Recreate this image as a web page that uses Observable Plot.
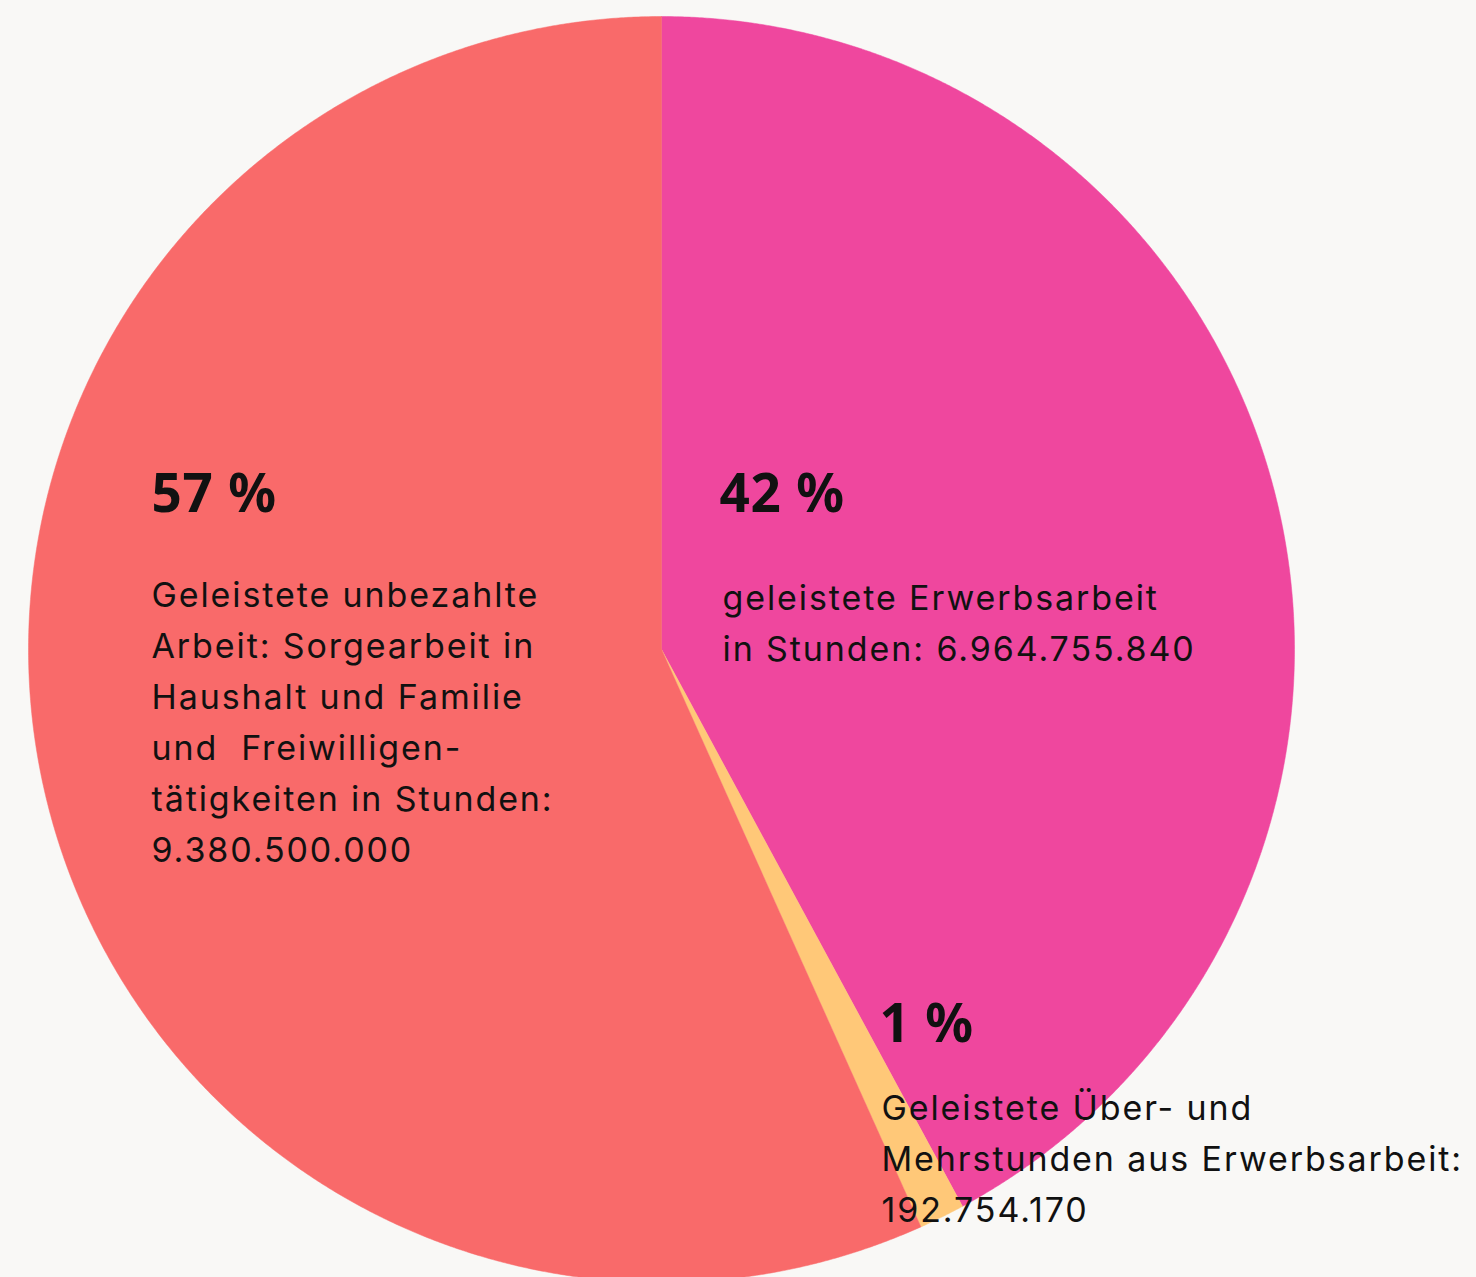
<!DOCTYPE html>
<html>
<head>
<meta charset="utf-8">
<script src="https://cdn.jsdelivr.net/npm/d3@7"></script>
<script src="https://cdn.jsdelivr.net/npm/@observablehq/plot@0.6"></script>
<style>
  html, body { margin: 0; padding: 0; background: #f9f8f6; overflow: hidden; }
  #chart svg { display: block; }
</style>
</head>
<body>
<div id="chart"></div>
<script>
// ---- data ----
const categories = [
  "geleistete Erwerbsarbeit",
  "Geleistete Über- und Mehrstunden aus Erwerbsarbeit",
  "Geleistete unbezahlte Arbeit"
];
const hours = [6964755840, 192754170, 9380500000];
const percentLabels = ["42 %", "1 %", "57 %"];
const descriptionLines = [
  ["geleistete Erwerbsarbeit", "in Stunden: 6.964.755.840"],
  ["Geleistete Über- und", "Mehrstunden aus Erwerbsarbeit:", "192.754.170"],
  ["Geleistete unbezahlte", "Arbeit: Sorgearbeit in", "Haushalt und Familie", "und  Freiwilligen-", "tätigkeiten in Stunden:", "9.380.500.000"]
];

// ---- styles / layout ----
const palette = ["#ef479e", "#ffc878", "#f96a6a"];
const W = 1476, H = 1277;
const cx = 661, cy = 649, R = 633;
const pctFont = "'Noto Sans', sans-serif";
const bodyFont = "Inter, 'Noto Sans', sans-serif";
// label block positions (px): [x, first baseline] for percent and description
const labelLayout = [
  {px: 719, pb: 511, dx: 722, db: 610},
  {px: 879, pb: 1041, dx: 881, db: 1120},
  {px: 151, pb: 511, dx: 151, db: 607}
];
const pctSize = 53, bodySize = 34, lineGap = 51;

// ---- build pie geometry through d3.pie ----
const table = categories.map((name, i) => ({name, value: hours[i]}));
const arcs = d3.pie().sort(null).value(d => d.value)(table);
const points = [];
for (const a of arcs) {
  const steps = Math.max(4, Math.ceil((a.endAngle - a.startAngle) / 0.004));
  points.push({name: a.data.name, x: 0, y: 0});
  for (let k = 0; k <= steps; k++) {
    const t = a.startAngle + (a.endAngle - a.startAngle) * k / steps;
    points.push({name: a.data.name, x: Math.sin(t), y: Math.cos(t)});
  }
  points.push({name: a.data.name, x: 0, y: 0});
}

const marks = [
  Plot.line(points, {x: "x", y: "y", z: "name", fill: "name", stroke: "name", strokeWidth: 0.5, curve: "linear"})
];
categories.forEach((name, i) => {
  const L = labelLayout[i];
  marks.push(Plot.text([percentLabels[i]], {
    text: d => d, frameAnchor: "top-left", textAnchor: "start", lineAnchor: "top",
    dx: L.px, dy: L.pb - 0.71 * pctSize, fontSize: pctSize, fontWeight: 700,
    fontFamily: pctFont, fill: "#111"
  }));
  marks.push(Plot.text([descriptionLines[i].join("\n")], {
    text: d => d, frameAnchor: "top-left", textAnchor: "start", lineAnchor: "top",
    lineHeight: lineGap / bodySize,
    dx: L.dx, dy: L.db - 0.71 * lineGap, fontSize: bodySize,
    fontFamily: bodyFont, fill: "#111"
  }));
});

const chart = Plot.plot({
  width: W, height: H,
  marginTop: 0, marginRight: 0, marginBottom: 0, marginLeft: 0,
  style: {background: "#f9f8f6", fontFamily: bodyFont},
  x: {domain: [-1, 1], range: [cx - R, cx + R], axis: null},
  y: {domain: [-1, 1], range: [cy + R, cy - R], axis: null},
  color: {domain: categories, range: palette},
  marks
});
// widen the description typography (letter spacing) to match the reference face
d3.select(chart).selectAll(`g[font-size="${bodySize}"]`).style("letter-spacing", "1.9px");
d3.select(chart).selectAll(`g[font-size="${pctSize}"]`).style("letter-spacing", "0.8px");
document.getElementById("chart").appendChild(chart);
</script>
</body>
</html>
